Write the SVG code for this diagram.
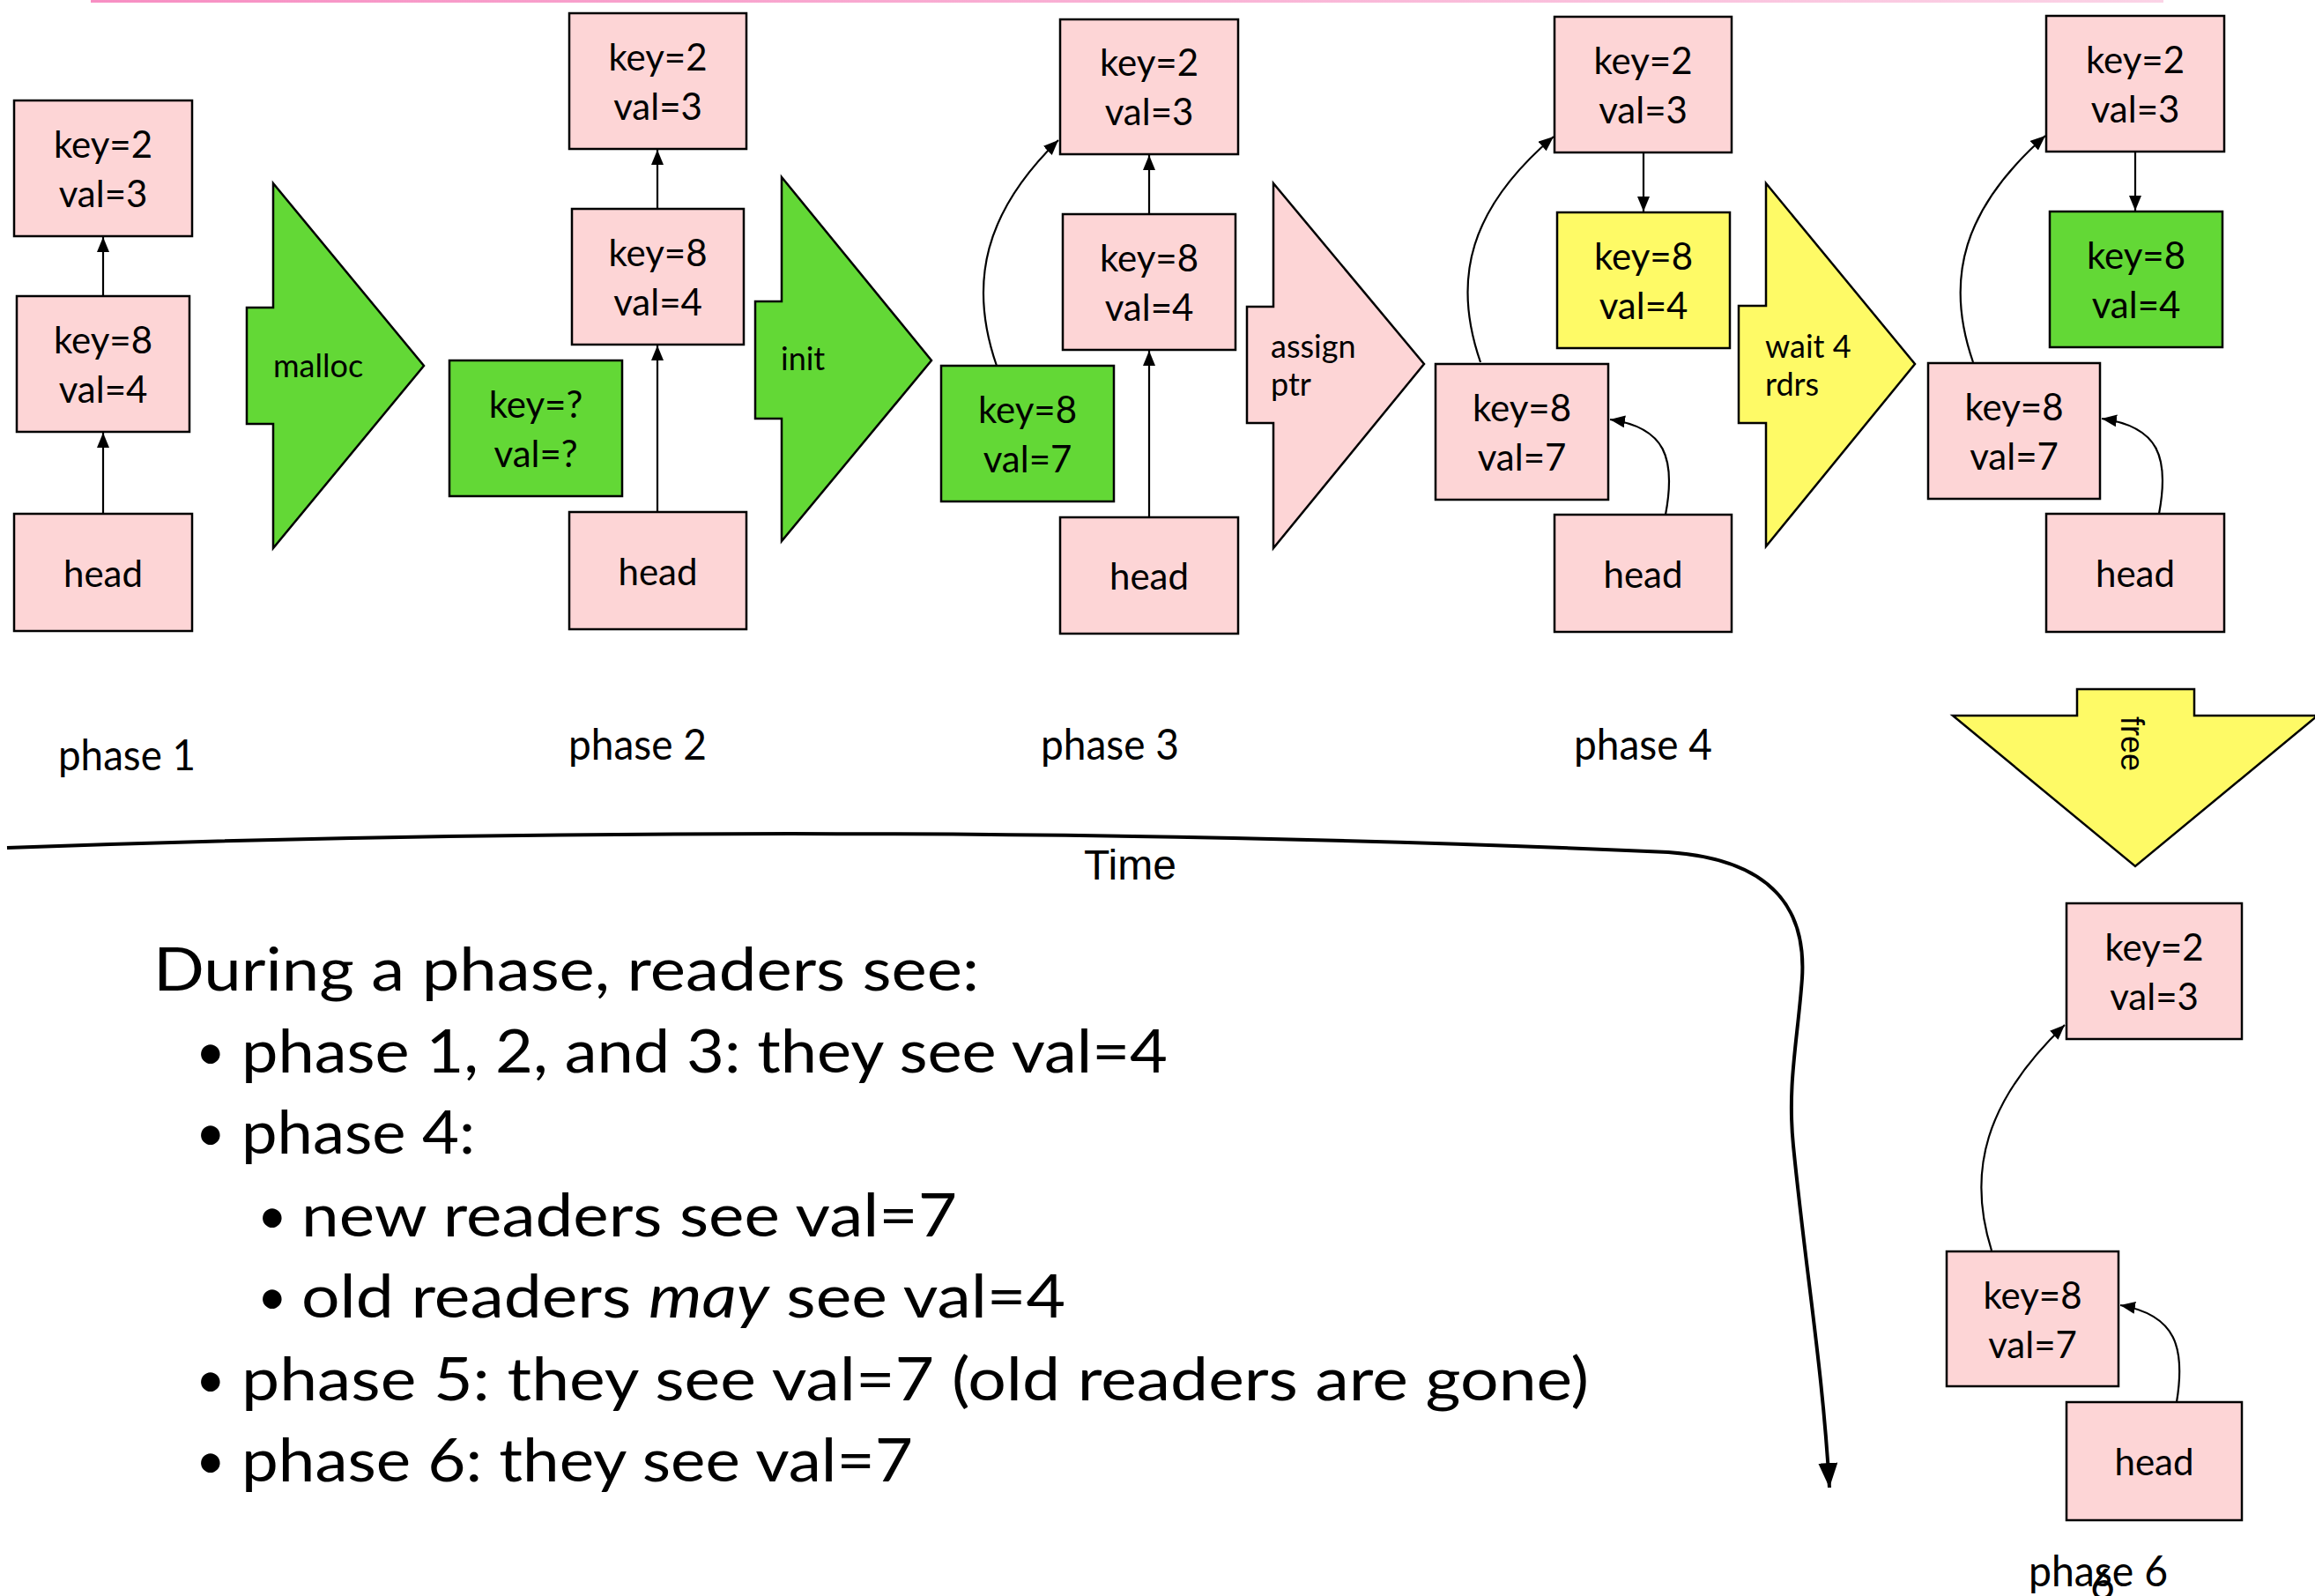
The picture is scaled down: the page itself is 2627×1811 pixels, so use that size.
<svg xmlns="http://www.w3.org/2000/svg" width="2627" height="1811" viewBox="0 0 2627 1811">
<style>
  .box{stroke:#000;stroke-width:2.5}
  .pink{fill:#fdd5d6}
  .green{fill:#63d836}
  .yellow{fill:#fefa66}
  .bt{font-family:Lato,"Open Sans",sans-serif;font-size:42px;fill:#000;text-anchor:middle}
  .al{font-family:Lato,"Open Sans",sans-serif;font-size:36px;fill:#000}
  .ph{font-family:Lato,"Open Sans",sans-serif;font-size:48px;fill:#000}
  .big{font-family:Lato,"Open Sans",sans-serif;font-size:68px;fill:#000}
  .bul{font-family:Lato,"Open Sans",sans-serif;font-size:58px;fill:#000}
  .sans{font-family:"Liberation Sans",Arial,sans-serif;fill:#000}
  .blk{stroke:#000;stroke-width:2.5;stroke-linejoin:miter}
  .con{fill:none;stroke:#000;stroke-width:2.2}
</style>
<defs>
  <linearGradient id="pinkline" x1="0" y1="0" x2="1" y2="0">
    <stop offset="0" stop-color="#f78fc3"/>
    <stop offset="1" stop-color="#fbd3e6"/>
  </linearGradient>
  <marker id="ah" markerUnits="userSpaceOnUse" markerWidth="18" markerHeight="16" refX="17" refY="7" orient="auto">
    <path d="M0,0 L17,7 L0,14 z" fill="#000"/>
  </marker>
  <marker id="bigah" markerUnits="userSpaceOnUse" markerWidth="30" markerHeight="24" refX="28" refY="11" orient="auto">
    <path d="M0,0 L28,11 L0,22 z" fill="#000"/>
  </marker>
</defs>
<rect x="0" y="0" width="2627" height="1811" fill="#fff"/>
<rect x="103" y="0" width="2352" height="3" fill="url(#pinkline)"/>

<!-- block arrows -->
<g id="malloc">
  <polygon class="blk green" points="310,208 481,415 310,622 310,481 280,481 280,349 310,349"/>
  <text class="al" x="310" y="428">malloc</text>
</g>
<g id="init">
  <polygon class="blk green" points="887,201 1057,409 887,614 887,475 857,475 857,342 887,342"/>
  <text class="al" x="886" y="420">init</text>
</g>
<g id="assign">
  <polygon class="blk pink" points="1445,208 1616,413 1445,622 1445,480 1415,480 1415,348 1445,348"/>
  <text class="al" x="1442" y="406">assign</text>
  <text class="al" x="1442" y="449">ptr</text>
</g>
<g id="wait">
  <polygon class="blk yellow" points="2004,208 2173,413 2004,620 2004,480 1973,480 1973,347 2004,347"/>
  <text class="al" x="2003" y="406">wait 4</text>
  <text class="al" x="2003" y="449">rdrs</text>
</g>
<g id="free">
  <polygon class="blk yellow" points="2357,782 2490,782 2490,812 2630,812 2423,983 2216,812 2357,812"/>
  <text class="sans" font-size="36" transform="translate(2407,813) rotate(90)">free</text>
</g>

<!-- phase 1 -->
<g id="p1-key2"><rect class="box pink" x="16" y="114" width="202" height="154"/><text class="bt" x="117" y="179">key=2</text><text class="bt" x="117" y="235">val=3</text></g>
<g id="p1-key8"><rect class="box pink" x="19" y="336" width="196" height="154"/><text class="bt" x="117" y="401">key=8</text><text class="bt" x="117" y="457">val=4</text></g>
<g id="p1-head"><rect class="box pink" x="16" y="583" width="202" height="133"/><text class="bt" x="117" y="666">head</text></g>

<!-- phase 2 -->
<g id="p2-key2"><rect class="box pink" x="646" y="15" width="201" height="154"/><text class="bt" x="746.5" y="80">key=2</text><text class="bt" x="746.5" y="136">val=3</text></g>
<g id="p2-key8"><rect class="box pink" x="649" y="237" width="195" height="154"/><text class="bt" x="746.5" y="302">key=8</text><text class="bt" x="746.5" y="358">val=4</text></g>
<g id="p2-head"><rect class="box pink" x="646" y="581" width="201" height="133"/><text class="bt" x="746.5" y="664">head</text></g>
<g id="p2-new"><rect class="box green" x="510" y="409" width="196" height="154"/><text class="bt" x="608" y="474">key=?</text><text class="bt" x="608" y="530">val=?</text></g>

<!-- phase 3 -->
<g id="p3-key2"><rect class="box pink" x="1203" y="22" width="202" height="153"/><text class="bt" x="1304" y="86">key=2</text><text class="bt" x="1304" y="142">val=3</text></g>
<g id="p3-key8"><rect class="box pink" x="1206" y="243" width="196" height="154"/><text class="bt" x="1304" y="308">key=8</text><text class="bt" x="1304" y="364">val=4</text></g>
<g id="p3-head"><rect class="box pink" x="1203" y="587" width="202" height="132"/><text class="bt" x="1304" y="669">head</text></g>
<g id="p3-new"><rect class="box green" x="1068" y="415" width="196" height="154"/><text class="bt" x="1166" y="480">key=8</text><text class="bt" x="1166" y="536">val=7</text></g>

<!-- phase 4 -->
<g id="p4-key2"><rect class="box pink" x="1764" y="19" width="201" height="154"/><text class="bt" x="1864.5" y="84">key=2</text><text class="bt" x="1864.5" y="140">val=3</text></g>
<g id="p4-old"><rect class="box yellow" x="1767" y="241" width="196" height="154"/><text class="bt" x="1865" y="306">key=8</text><text class="bt" x="1865" y="362">val=4</text></g>
<g id="p4-new"><rect class="box pink" x="1629" y="413" width="196" height="154"/><text class="bt" x="1727" y="478">key=8</text><text class="bt" x="1727" y="534">val=7</text></g>
<g id="p4-head"><rect class="box pink" x="1764" y="584" width="201" height="133"/><text class="bt" x="1864.5" y="667">head</text></g>

<!-- phase 5 -->
<g id="p5-key2"><rect class="box pink" x="2322" y="18" width="202" height="154"/><text class="bt" x="2423" y="83">key=2</text><text class="bt" x="2423" y="139">val=3</text></g>
<g id="p5-old"><rect class="box green" x="2326" y="240" width="196" height="154"/><text class="bt" x="2424" y="305">key=8</text><text class="bt" x="2424" y="361">val=4</text></g>
<g id="p5-new"><rect class="box pink" x="2188" y="412" width="195" height="154"/><text class="bt" x="2285.5" y="477">key=8</text><text class="bt" x="2285.5" y="533">val=7</text></g>
<g id="p5-head"><rect class="box pink" x="2322" y="583" width="202" height="134"/><text class="bt" x="2423" y="666">head</text></g>

<!-- phase 6 -->
<g id="p6-key2"><rect class="box pink" x="2345" y="1025" width="199" height="154"/><text class="bt" x="2444.5" y="1090">key=2</text><text class="bt" x="2444.5" y="1146">val=3</text></g>
<g id="p6-new"><rect class="box pink" x="2209" y="1420" width="195" height="153"/><text class="bt" x="2306.5" y="1485">key=8</text><text class="bt" x="2306.5" y="1541">val=7</text></g>
<g id="p6-head"><rect class="box pink" x="2345" y="1591" width="199" height="134"/><text class="bt" x="2444.5" y="1674">head</text></g>

<!-- connectors -->
<g id="connectors">
  <path class="con" marker-end="url(#ah)" d="M117,583 L117,491"/>
  <path class="con" marker-end="url(#ah)" d="M117,336 L117,269"/>
  <path class="con" marker-end="url(#ah)" d="M746,581 L746,392"/>
  <path class="con" marker-end="url(#ah)" d="M746,237 L746,170"/>
  <path class="con" marker-end="url(#ah)" d="M1304,587 L1304,398"/>
  <path class="con" marker-end="url(#ah)" d="M1304,243 L1304,176"/>
  <path class="con" marker-end="url(#ah)" d="M1131,415 C1098,320 1118,240 1201,159"/>
  <path class="con" marker-end="url(#ah)" d="M1865,173 L1865,240"/>
  <path class="con" marker-end="url(#ah)" d="M1680,411 C1647,316 1668,236 1763,155"/>
  <path class="con" marker-end="url(#ah)" d="M1890,584 C1902,520 1890,485 1827,476"/>
  <path class="con" marker-end="url(#ah)" d="M2423,172 L2423,239"/>
  <path class="con" marker-end="url(#ah)" d="M2239,411 C2206,316 2228,236 2321,154"/>
  <path class="con" marker-end="url(#ah)" d="M2450,583 C2462,519 2450,484 2385,475"/>
  <path class="con" marker-end="url(#ah)" d="M2260,1419 C2232,1330 2252,1250 2343,1163"/>
  <path class="con" marker-end="url(#ah)" d="M2470,1591 C2480,1530 2470,1492 2406,1481"/>
  <path fill="none" stroke="#000" stroke-width="4" marker-end="url(#bigah)" d="M8,962 C600,940 1300,940 1893,967 C2010,975 2050,1030 2045,1110 C2040,1180 2028,1230 2035,1300 C2050,1450 2068,1550 2076,1688"/>
</g>

<!-- labels -->
<text class="ph" x="66" y="874" textLength="156" lengthAdjust="spacingAndGlyphs">phase 1</text>
<text class="ph" x="645" y="862" textLength="157" lengthAdjust="spacingAndGlyphs">phase 2</text>
<text class="ph" x="1181" y="862" textLength="157" lengthAdjust="spacingAndGlyphs">phase 3</text>
<text class="ph" x="1786" y="862" textLength="157" lengthAdjust="spacingAndGlyphs">phase 4</text>
<text class="ph" x="2302" y="1800" textLength="158" lengthAdjust="spacingAndGlyphs">phase 6</text>
<text class="ph" x="2372" y="1815" font-size="20">6</text>
<text class="sans" x="1230" y="998" font-size="48">Time</text>

<text class="big" x="174" y="1124" textLength="937" lengthAdjust="spacingAndGlyphs">During a phase, readers see:</text>
<text class="bul" x="222" y="1214">•</text>
<text class="big" x="274" y="1217" textLength="1051" lengthAdjust="spacingAndGlyphs">phase 1, 2, and 3: they see val=4</text>
<text class="bul" x="222" y="1306">•</text>
<text class="big" x="274" y="1309" textLength="265" lengthAdjust="spacingAndGlyphs">phase 4:</text>
<text class="bul" x="292" y="1400">•</text>
<text class="big" x="342" y="1403" textLength="744" lengthAdjust="spacingAndGlyphs">new readers see val=7</text>
<text class="bul" x="292" y="1492">•</text>
<text class="big" x="342" y="1495" textLength="867" lengthAdjust="spacingAndGlyphs">old readers <tspan font-style="italic">may</tspan> see val=4</text>
<text class="bul" x="222" y="1586">•</text>
<text class="big" x="274" y="1589" textLength="1529" lengthAdjust="spacingAndGlyphs">phase 5: they see val=7 (old readers are gone)</text>
<text class="bul" x="222" y="1678">•</text>
<text class="big" x="274" y="1681" textLength="762" lengthAdjust="spacingAndGlyphs">phase 6: they see val=7</text>
</svg>
